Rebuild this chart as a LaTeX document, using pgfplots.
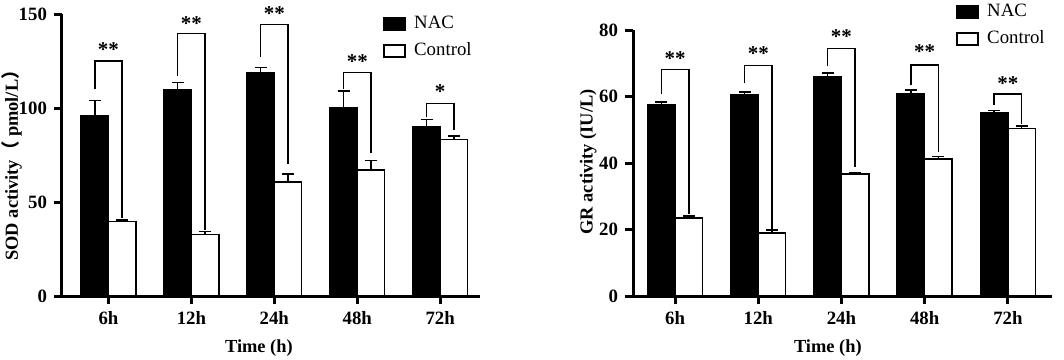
\documentclass[border=0pt]{standalone}
\usepackage{pgfplots}
\pgfplotsset{compat=1.18}
\usepackage{fontspec}
\setmainfont{Liberation Serif}
\newfontfamily\cjk{Noto Sans CJK SC}
\tikzset{stars/.style={font=\bfseries\fontsize{10.5}{10}\selectfont}}
\begin{document}
\begin{tikzpicture}
\path[use as bounding box] (0,0) rectangle (532pt,179.5pt);
\pgfplotsset{
  myaxis/.style={
    scale only axis,
    anchor=south west,
    axis lines*=left,
    axis line style={line width=1.5pt, black},
    tick style={line width=1.5pt, black},
    tick align=outside,
    major tick length=4pt,
    xtick={0,1,2,3,4},
    xticklabels={6h,12h,24h,48h,72h},
    ymin=0,
    clip=false,
    /pgf/number format/assume math mode=true,
    tick label style={font=\bfseries\fontsize{9.4}{10}\selectfont},
    label style={font=\bfseries\fontsize{9.2}{10}\selectfont},
    legend cell align=left,
    legend style={draw=none, fill=none, anchor=north west, inner sep=0pt,
      row sep=3.5pt, font=\fontsize{9.4}{10}\selectfont, nodes={inner sep=1pt}},
    legend image code/.code={\draw[#1, line width=0.75pt] (0pt,-3pt) rectangle (10.5pt,3pt); \path[draw=none, fill=none] (0pt,0pt) -- (14pt,0pt);},
    error bars/error bar style={line width=0.75pt, black},
    error bars/error mark options={line width=0.75pt, black, mark size=3pt, rotate=90},
  },
  nac/.style={ybar, bar width=0.33, bar shift=0, fill=black, draw=black, line width=0.75pt,
    error bars/.cd, y dir=plus, y explicit},
  ctl/.style={ybar, bar width=0.33, bar shift=0, fill=white, draw=black, line width=0.75pt,
    error bars/.cd, y dir=plus, y explicit},
  brk/.style={black, line width=0.75pt, sharp plot, mark=none, forget plot},
}
% ---------- Left: SOD ----------
\begin{axis}[myaxis,
  at={(31pt,31.5pt)}, width=209pt, height=141pt,
  xmin=-0.56, xmax=4.48, ymax=150,
  ytick={0,50,100,150},
  xlabel={Time (h)},
  ylabel={SOD activity{\cjk （}\ pmol/L{\cjk ）}},
  xlabel style={at={(axis description cs:0.471,-0.185)}, anchor=center},
  ylabel style={at={(axis description cs:-0.12,0.479)}, anchor=center, rotate=0},
  legend style={at={(axis description cs:0.768,1.0)}},
]
\addplot[nac] coordinates {(-0.165,96) +- (0,8) (0.835,109.7) +- (0,3.8) (1.835,118.6) +- (0,3) (2.835,100) +- (0,9) (3.835,90) +- (0,3.8)};
\addlegendentry{NAC}
\addplot[ctl] coordinates {(0.165,39.5) +- (0,1) (1.165,32.8) +- (0,1.4) (2.165,60.6) +- (0,4.4) (3.165,67) +- (0,5.2) (4.165,83.2) +- (0,1.9)};
\addlegendentry{Control}
\addplot[brk] coordinates {(-0.165,110) (-0.165,125) (0.165,125) (0.165,41.5)};
\addplot[brk] coordinates {(0.835,117) (0.835,139.5) (1.165,139.5) (1.165,35)};
\addplot[brk] coordinates {(1.835,127) (1.835,144.5) (2.165,144.5) (2.165,70)};
\addplot[brk] coordinates {(2.835,110) (2.835,118.8) (3.165,118.8) (3.165,76)};
\addplot[brk] coordinates {(3.835,95) (3.835,102.3) (4.165,102.3) (4.165,88.3)};
\node[stars] at (axis cs:0,131) {**};
\node[stars] at (axis cs:1,145) {**};
\node[stars] at (axis cs:2,150) {**};
\node[stars] at (axis cs:3,124.5) {**};
\node[stars] at (axis cs:4,108.6) {*};
\end{axis}
% ---------- Right: GR ----------
\begin{axis}[myaxis,
  at={(316.5pt,31.5pt)}, width=209.5pt, height=133pt,
  xmin=-0.505, xmax=4.53, ymax=80,
  ytick={0,20,40,60,80},
  xlabel={Time (h)},
  ylabel={GR activity (IU/L)},
  xlabel style={at={(axis description cs:0.465,-0.196)}, anchor=center},
  ylabel style={at={(axis description cs:-0.107,0.504)}, anchor=center, rotate=0},
  legend style={at={(axis description cs:0.771,1.105)}},
]
\addplot[nac] coordinates {(-0.165,57.6) +- (0,0.8) (0.835,60.4) +- (0,1.0) (1.835,65.9) +- (0,1.1) (2.835,60.8) +- (0,1.1) (3.835,55.0) +- (0,0.8)};
\addlegendentry{NAC}
\addplot[ctl] coordinates {(0.165,23.5) +- (0,0.5) (1.165,19.0) +- (0,0.8) (2.165,36.7) +- (0,0.4) (3.165,41.2) +- (0,0.7) (4.165,50.4) +- (0,0.8)};
\addlegendentry{Control}
\addplot[brk] coordinates {(-0.165,60.7) (-0.165,68.1) (0.165,68.1) (0.165,24.6)};
\addplot[brk] coordinates {(0.835,64) (0.835,69.3) (1.165,69.3) (1.165,20.3)};
\addplot[brk] coordinates {(1.835,69.3) (1.835,74.5) (2.165,74.5) (2.165,38.9)};
\addplot[brk] coordinates {(2.835,63.5) (2.835,69.5) (3.165,69.5) (3.165,43.4)};
\addplot[brk] coordinates {(3.835,57.4) (3.835,60.7) (4.165,60.7) (4.165,51.8)};
\node[stars] at (axis cs:0,71.5) {**};
\node[stars] at (axis cs:1,72.8) {**};
\node[stars] at (axis cs:2,78) {**};
\node[stars] at (axis cs:3,73.5) {**};
\node[stars] at (axis cs:4,64) {**};
\end{axis}
\end{tikzpicture}
\end{document}
